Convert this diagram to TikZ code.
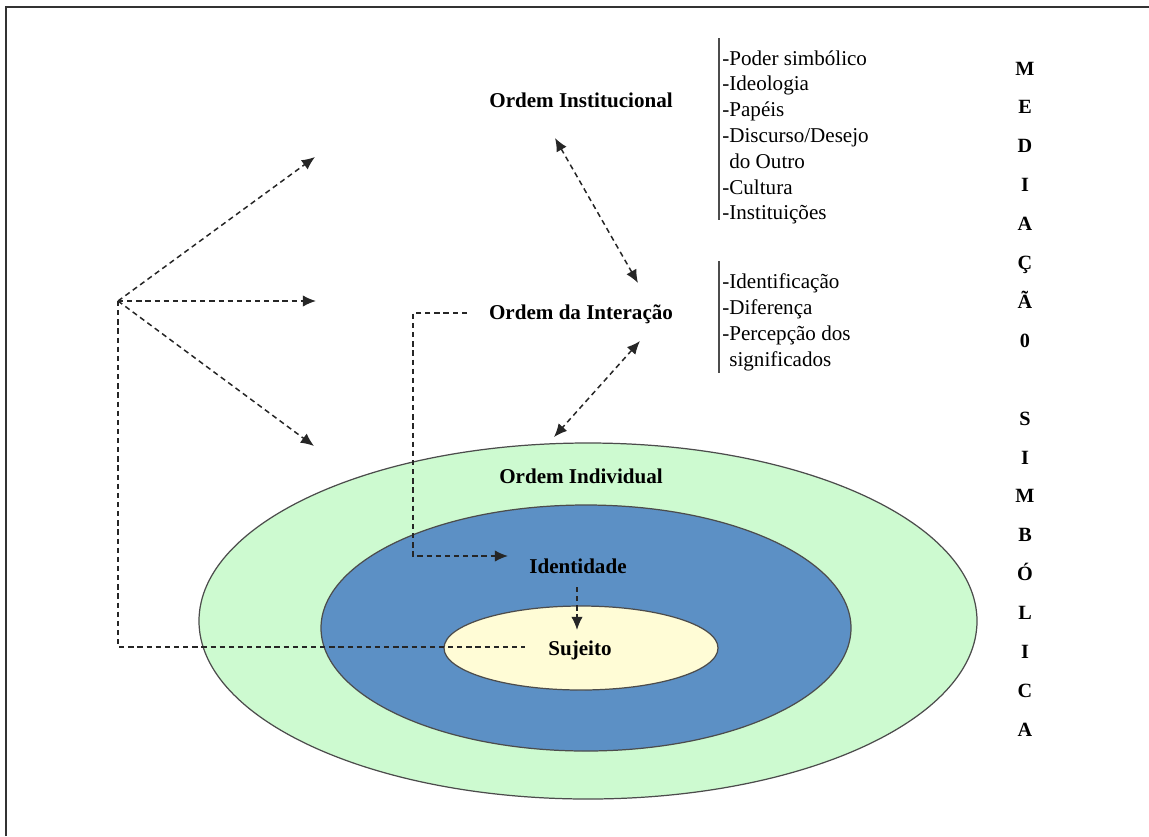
\documentclass[tikz,border=0pt]{standalone}
\usepackage{fontspec}
\setmainfont{Liberation Serif}
\usetikzlibrary{calc,arrows.meta}
\definecolor{indgreen}{RGB}{205,250,208}
\definecolor{idblue}{RGB}{92,144,197}
\definecolor{sujyellow}{RGB}{255,252,214}

\begin{document}
\begin{tikzpicture}
[x=0.02cm,y=-0.02cm,>={Latex[length=7.5pt,width=6.5pt]},
 order/.style={font=\fontsize{12}{14}\selectfont\bfseries,inner sep=0pt,anchor=base},
 item/.style={font=\fontsize{12}{14}\selectfont,inner sep=0pt,anchor=base west},
 letter/.style={font=\fontsize{11.5}{13}\selectfont\bfseries,inner sep=0pt,anchor=base},
 link/.style={draw=black!85,line width=0.85pt,dash pattern=on 3pt off 2.2pt},
 ring/.style={draw=black!70,line width=0.7pt},]

\useasboundingbox (0,0) rectangle (1149,836);

%Frame
\draw[black!80,line width=1.1pt] (6,836) -- (6,7) -- (1149,7);

%Ellipses
\draw[ring,fill=indgreen] (588,621) ellipse [x radius=389,y radius=178];
\draw[ring,fill=idblue] (586,628) ellipse [x radius=265,y radius=123];
\draw[ring,fill=sujyellow] (581,648) ellipse [x radius=137,y radius=42];

%Labeling orders
\node (inst) at (581,107)[order] {Ordem Institucional};
\node (inter) at (581,319)[order] {Ordem da Interação};
\node (indiv) at (581,483)[order] {Ordem Individual};
\node (ident) at (578,573)[order] {Identidade};
\node (suj) at (580,655)[order] {Sujeito};

%Lists
\draw[black!70,line width=1pt] (719,38) -- (719,220);
\draw[black!70,line width=1pt] (719,261) -- (719,373);
\foreach \t [count=\k from 0] in {-Poder simbólico,-Ideologia,-Papéis,-Discurso/Desejo,\hspace*{4pt}do Outro,-Cultura,-Instituições}
  \node (instit\k) at (722,{65+25.8*\k})[item] {\t};
\foreach \t [count=\k from 0] in {-Identificação,-Diferença,-Percepção dos,\hspace*{4pt}significados}
  \node (interit\k) at (722,{288+26.3*\k})[item] {\t};

%Mediacao simbolica
\foreach \c [count=\k from 0] in {M,E,D,I,A,Ç,Ã,0,{},S,I,M,B,Ó,L,I,C,A}
  \node (med\k) at (1025,{75+38.9*\k})[letter] {\c};

%Points
\coordinate (src) at (118,301);
\coordinate (up) at (315,157);
\coordinate (mid) at (316,301);
\coordinate (down) at (314,446);
\coordinate (corner) at (118,647);
\coordinate (sujend) at (525,647);
\coordinate (interend) at (467,313);
\coordinate (bendtop) at (413,313);
\coordinate (bendlow) at (413,556);
\coordinate (identin) at (508,556);
\coordinate (identout) at (577,587);
\coordinate (sujin) at (577,630);
\coordinate (instlow) at (555,138);
\coordinate (intertop) at (638,283);
\coordinate (interlow) at (640,341);
\coordinate (indivtop) at (554,437);

%Arrows
\draw[link,->] (src) -- (up);
\draw[link,->] (src) -- (mid);
\draw[link,->] (src) -- (down);
\draw[link] (src) -- (corner) -- (sujend);
\draw[link,->] (interend) -- (bendtop) -- (bendlow) -- (identin);
\draw[link,->] (identout) -- (sujin);
\draw[link,<->] (instlow) -- (intertop);
\draw[link,<->] (interlow) -- (indivtop);

\end{tikzpicture}
\end{document}
